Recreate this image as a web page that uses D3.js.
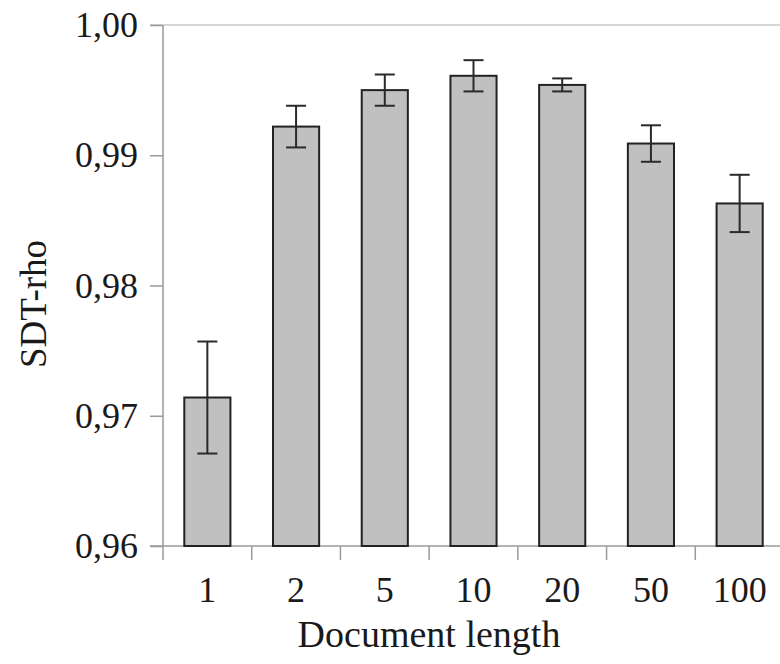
<!DOCTYPE html>
<html>
<head>
<meta charset="utf-8">
<script src="https://cdn.jsdelivr.net/npm/d3@7"></script>
<style>
  body { margin: 0; background: #fff; }
  text { font-family: "Liberation Serif", "Times New Roman", serif; fill: #1a1a1a; }
</style>
</head>
<body>
<div class="chart"></div>
<script>
var svgWidth = 780;
var svgHeight = 664;

// data
var docLengths = ["1", "2", "5", "10", "20", "50", "100"];
var rhoValues = [0.9714, 0.9922, 0.9950, 0.9961, 0.9954, 0.9909, 0.9863];
var rhoErrors = [0.0043, 0.0016, 0.0012, 0.0012, 0.0005, 0.0014, 0.0022];
var yTicks = [0.96, 0.97, 0.98, 0.99, 1.00];

var margin = { top: 25, left: 163, bottom: 118 };
var plotRight = 784; // plot runs a bit past the right edge

var svg = d3.select(".chart")
  .append("svg")
  .attr("width", svgWidth)
  .attr("height", svgHeight);

var yScale = d3.scaleLinear()
  .domain([0.96, 1.00])
  .range([svgHeight - margin.bottom, margin.top]);

var xScale = d3.scaleBand()
  .domain(docLengths)
  .range([margin.left, plotRight])
  .paddingInner(0.48)
  .paddingOuter(0.24);

var commaFormat = d3.formatLocale({ decimal: ",", thousands: ".", grouping: [3], currency: ["", ""] }).format(".2f");

var axisColor = "#9a9a9a";
var y0 = yScale(0.96);

// top border line
svg.append("line")
  .attr("x1", margin.left - 13).attr("x2", svgWidth)
  .attr("y1", yScale(1.00)).attr("y2", yScale(1.00))
  .attr("stroke", "#c8c8c8").attr("stroke-width", 1.5);

// y axis
var leftAxis = d3.axisLeft(yScale)
  .tickValues(yTicks)
  .tickSize(13)
  .tickPadding(12)
  .tickFormat(commaFormat);

var yAxis = svg.append("g")
  .attr("transform", `translate(${margin.left}, 0)`)
  .call(leftAxis);
yAxis.select(".domain").remove();
yAxis.selectAll("line").attr("stroke", axisColor).attr("stroke-width", 1.5);
yAxis.selectAll("text")
  .style("font-family", '"Liberation Serif", serif')
  .style("font-size", "36px")
  .attr("fill", "#1a1a1a");

svg.append("line")
  .attr("x1", margin.left).attr("x2", margin.left)
  .attr("y1", yScale(1.00)).attr("y2", y0 + 14)
  .attr("stroke", axisColor).attr("stroke-width", 1.5);

// x axis line and ticks between categories
svg.append("line")
  .attr("x1", margin.left - 13).attr("x2", svgWidth)
  .attr("y1", y0).attr("y2", y0)
  .attr("stroke", axisColor).attr("stroke-width", 1.5);

svg.selectAll(".xtick")
  .data(docLengths.slice(1))
  .enter()
  .append("line")
  .attr("class", "xtick")
  .attr("x1", d => xScale(d) - xScale.step() * xScale.paddingInner() / 2)
  .attr("x2", d => xScale(d) - xScale.step() * xScale.paddingInner() / 2)
  .attr("y1", y0).attr("y2", y0 + 14)
  .attr("stroke", axisColor).attr("stroke-width", 1.5);

// bars
svg.selectAll(".bar")
  .data(docLengths)
  .enter()
  .append("rect")
  .attr("class", "bar")
  .attr("x", d => xScale(d))
  .attr("width", xScale.bandwidth())
  .attr("y", (d, i) => yScale(rhoValues[i]))
  .attr("height", (d, i) => y0 - yScale(rhoValues[i]))
  .attr("fill", "#c0c0c0")
  .attr("stroke", "#222")
  .attr("stroke-width", 2);

// error bars
var capHalf = 10;
var errGroup = svg.selectAll(".err")
  .data(docLengths)
  .enter()
  .append("g")
  .attr("class", "err")
  .attr("stroke", "#2a2a2a")
  .attr("stroke-width", 2);

errGroup.append("line")
  .attr("x1", d => xScale(d) + xScale.bandwidth() / 2)
  .attr("x2", d => xScale(d) + xScale.bandwidth() / 2)
  .attr("y1", (d, i) => yScale(rhoValues[i] + rhoErrors[i]))
  .attr("y2", (d, i) => yScale(rhoValues[i] - rhoErrors[i]));

errGroup.append("line")
  .attr("x1", d => xScale(d) + xScale.bandwidth() / 2 - capHalf)
  .attr("x2", d => xScale(d) + xScale.bandwidth() / 2 + capHalf)
  .attr("y1", (d, i) => yScale(rhoValues[i] + rhoErrors[i]))
  .attr("y2", (d, i) => yScale(rhoValues[i] + rhoErrors[i]));

errGroup.append("line")
  .attr("x1", d => xScale(d) + xScale.bandwidth() / 2 - capHalf)
  .attr("x2", d => xScale(d) + xScale.bandwidth() / 2 + capHalf)
  .attr("y1", (d, i) => yScale(rhoValues[i] - rhoErrors[i]))
  .attr("y2", (d, i) => yScale(rhoValues[i] - rhoErrors[i]));

// category labels
svg.selectAll(".xlabel")
  .data(docLengths)
  .enter()
  .append("text")
  .attr("class", "xlabel")
  .attr("x", d => xScale(d) + xScale.bandwidth() / 2)
  .attr("y", 602)
  .attr("text-anchor", "middle")
  .style("font-size", "36px")
  .text(d => d);

// axis titles
svg.append("text")
  .attr("x", 429)
  .attr("y", 647)
  .attr("text-anchor", "middle")
  .style("font-size", "38px")
  .text("Document length");

svg.append("text")
  .attr("transform", "translate(46, 304) rotate(-90)")
  .attr("text-anchor", "middle")
  .style("font-size", "37px")
  .text("SDT-rho");
</script>
</body>
</html>
